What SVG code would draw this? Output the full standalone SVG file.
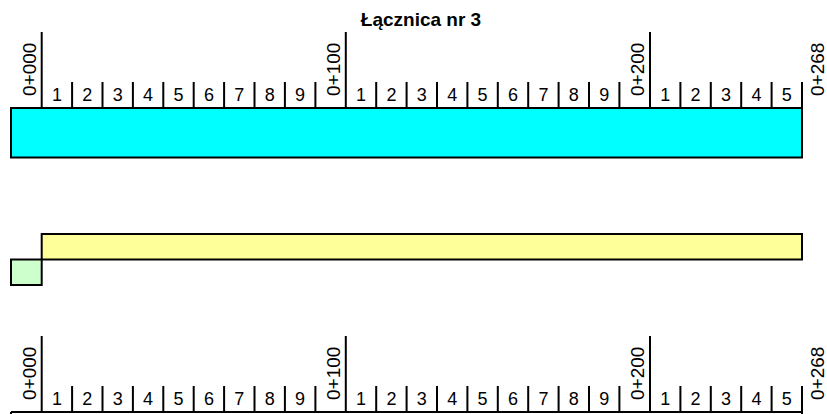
<svg xmlns="http://www.w3.org/2000/svg" width="827" height="414" viewBox="0 0 827 414">
<style>
text{font-family:"Liberation Sans",Arial,sans-serif;fill:#000}
.t{font-size:19px;font-weight:bold;text-anchor:middle}
.n{font-size:18px;text-anchor:middle}
.r{font-size:19px}
.tk{stroke:#000;stroke-width:2;fill:none}
.bar{stroke:#000;stroke-width:2}
</style>
<defs>
<g id="ruler">
<path class="tk" d="M41.7,32V108M345.8,32V108M650,32V108M72.1,82V108M102.5,82V108M132.9,82V108M163.3,82V108M193.7,82V108M224.1,82V108M254.5,82V108M284.9,82V108M315.4,82V108M376.2,82V108M406.6,82V108M437,82V108M467.4,82V108M497.8,82V108M528.2,82V108M558.6,82V108M589,82V108M619.4,82V108M680.4,82V108M710.8,82V108M741.2,82V108M771.6,82V108M802,82V108"/>
<g class="n">
<text x="56.9" y="101">1</text><text x="87.3" y="101">2</text><text x="117.7" y="101">3</text><text x="148.1" y="101">4</text><text x="178.5" y="101">5</text><text x="208.9" y="101">6</text><text x="239.3" y="101">7</text><text x="269.7" y="101">8</text><text x="300.1" y="101">9</text>
<text x="361" y="101">1</text><text x="391.4" y="101">2</text><text x="421.8" y="101">3</text><text x="452.2" y="101">4</text><text x="482.6" y="101">5</text><text x="513" y="101">6</text><text x="543.4" y="101">7</text><text x="573.8" y="101">8</text><text x="604.2" y="101">9</text>
<text x="665.2" y="101">1</text><text x="695.6" y="101">2</text><text x="726" y="101">3</text><text x="756.4" y="101">4</text><text x="786.8" y="101">5</text>
</g>
<g class="r">
<text transform="translate(36,96) rotate(-90)">0+000</text>
<text transform="translate(339.5,96) rotate(-90)">0+100</text>
<text transform="translate(643.5,96) rotate(-90)">0+200</text>
<text transform="translate(824,96) rotate(-90)">0+268</text>
</g>
</g>
</defs>
<g id="title"><text class="t" x="421" y="26">Łącznica nr 3</text></g>
<g id="ruler-top"><use href="#ruler"/></g>
<g id="bar-cyan"><rect class="bar" x="11" y="108" width="791" height="49.5" fill="#00FFFF"/></g>
<g id="bar-yellow"><rect class="bar" x="41.7" y="234" width="760.3" height="25.5" fill="#FFFF99"/></g>
<g id="bar-green"><rect class="bar" x="11" y="259.5" width="30.7" height="25.5" fill="#CCFFCC"/></g>
<g id="ruler-bottom"><use href="#ruler" transform="translate(0,304)"/>
<path class="tk" d="M11,412H802M11,412V415M802,412V415"/></g>
</svg>
